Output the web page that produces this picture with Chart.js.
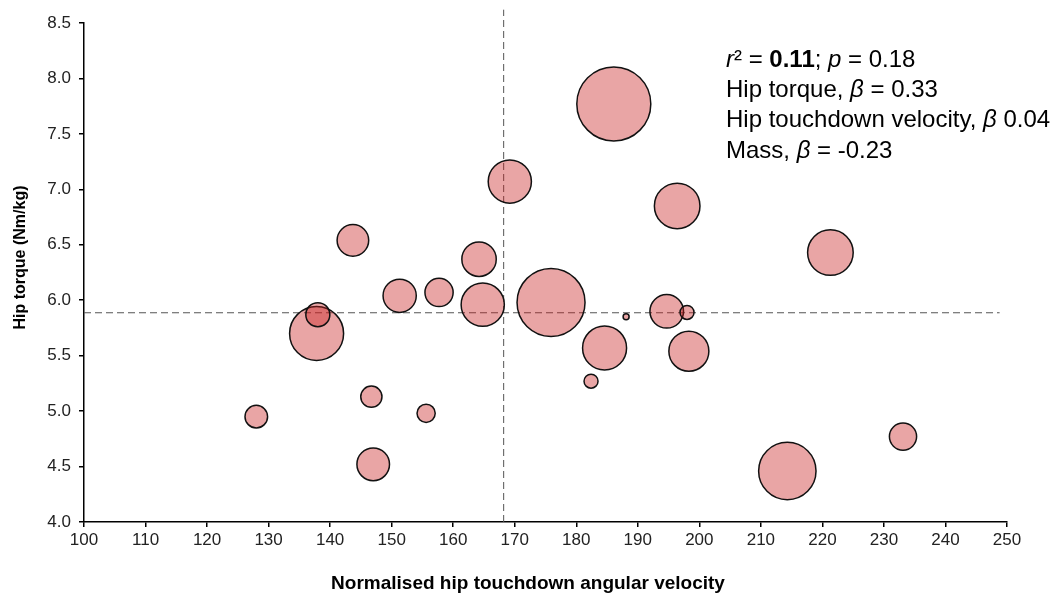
<!DOCTYPE html>
<html>
<head>
<meta charset="utf-8">
<script src="https://cdn.jsdelivr.net/npm/chart.js@4.4.0/dist/chart.umd.min.js"></script>
<style>
  html, body { margin: 0; padding: 0; background: #fff; }
  #wrap { width: 1057px; height: 597px; }
</style>
</head>
<body>
<div id="wrap"><canvas id="bubble-chart" width="1057" height="597"></canvas></div>
<script>
// hip touchdown angular velocity (x), hip torque (y), bubble size (radius)
const velocity = [186.1, 169.2, 196.4, 143.7, 164.2, 221.3, 151.3, 157.7, 164.8, 175.9, 137.8, 138.0,
                  194.7, 198.0, 188.1, 184.6, 198.3, 182.4, 146.7, 155.6, 128.0, 147.0, 233.1, 214.3];
const torque = [7.77, 7.07, 6.85, 6.54, 6.37, 6.43, 6.04, 6.07, 5.96, 5.98, 5.70, 5.87,
                5.90, 5.89, 5.85, 5.57, 5.54, 5.27, 5.13, 4.98, 4.95, 4.52, 4.77, 4.46];
const sizes = [37, 21.6, 22.8, 15.8, 17.2, 22.8, 16.6, 14.1, 21.6, 34, 27, 12,
               16.8, 7, 3, 22, 20, 7, 10.6, 9.1, 11.3, 16.3, 13.6, 28.7];

// reference lines (means)
const meanVelocity = 168.2;
const meanTorque = 5.887;

const xTicks = [100, 110, 120, 130, 140, 150, 160, 170, 180, 190, 200, 210, 220, 230, 240, 250];
const yTicks = [4.0, 4.5, 5.0, 5.5, 6.0, 6.5, 7.0, 7.5, 8.0, 8.5];

const xTitle = "Normalised hip touchdown angular velocity";
const yTitle = "Hip torque (Nm/kg)";

const statLines = [
    [{t: "r", s: "italic"}, {t: "² = "}, {t: "0.11", s: "bold"}, {t: "; "}, {t: "p", s: "italic"}, {t: " = 0.18"}],
    [{t: "Hip torque, "}, {t: "β", s: "italic"}, {t: " = 0.33"}],
    [{t: "Hip touchdown velocity, "}, {t: "β", s: "italic"}, {t: " 0.04"}],
    [{t: "Mass, "}, {t: "β", s: "italic"}, {t: " = -0.23"}]
];

const FONT = "'Liberation Sans', Arial, sans-serif";

let points = velocity.map((v, i) => ({x: v, y: torque[i], r: sizes[i]}));

// axis titles + stats text, drawn after the chart
const extraText = {
    id: 'extraText',
    afterDraw(chart) {
        let ctx = chart.ctx;
        ctx.save();
        ctx.fillStyle = '#000';
        ctx.textAlign = 'center';
        ctx.textBaseline = 'middle';
        ctx.font = "bold 19px " + FONT;
        ctx.fillText(xTitle, 528, 584);
        ctx.translate(21, 257.5);
        ctx.rotate(-Math.PI / 2);
        ctx.font = "bold 16px " + FONT;
        ctx.fillText(yTitle, 0, 0);
        ctx.restore();

        ctx.save();
        ctx.fillStyle = '#000';
        ctx.textBaseline = 'middle';
        ctx.textAlign = 'left';
        let y = 60;
        statLines.forEach(line => {
            let x = 726;
            line.forEach(part => {
                ctx.font = (part.s ? part.s + " " : "") + "24px " + FONT;
                ctx.fillText(part.t, x, y);
                x += ctx.measureText(part.t).width;
            });
            y += 30.3;
        });
        ctx.restore();
    }
};

let context = document.querySelector("#bubble-chart").getContext('2d');
new Chart(context, {
    type: 'bubble',
    data: {
        datasets: [{
            data: points,
            backgroundColor: 'rgba(200, 30, 30, 0.4)',
            borderColor: '#111',
            borderWidth: 1.5,
            order: 1
        }, {
            type: 'line',
            data: [{x: meanVelocity, y: 4.0}, {x: meanVelocity, y: 8.62}],
            borderColor: '#555',
            borderWidth: 1,
            borderDash: [7, 4],
            pointRadius: 0,
            clip: false,
            order: 2
        }, {
            type: 'line',
            data: [{x: 100, y: meanTorque}, {x: 248.8, y: meanTorque}],
            borderColor: '#555',
            borderWidth: 1,
            borderDash: [7, 4],
            pointRadius: 0,
            clip: false,
            order: 2
        }]
    },
    options: {
        responsive: false,
        animation: false,
        events: [],
        layout: { autoPadding: false, padding: { left: 0, top: 23, right: 50, bottom: 0 } },
        plugins: { legend: { display: false }, tooltip: { enabled: false } },
        scales: {
            x: {
                type: 'linear',
                min: 100,
                max: 250,
                afterBuildTicks: s => { s.ticks = xTicks.map(v => ({value: v})); },
                afterFit: s => { s.height = 75; },
                ticks: { font: { family: FONT, size: 17 }, color: '#222', padding: 3 },
                grid: { drawOnChartArea: false, tickLength: 5, color: '#000', lineWidth: 1.5 },
                border: { color: '#000', width: 1.5 }
            },
            y: {
                min: 4,
                max: 8.5,
                afterBuildTicks: s => { s.ticks = yTicks.map(v => ({value: v})); },
                afterFit: s => { s.width = 84; },
                ticks: { font: { family: FONT, size: 17 }, color: '#222', padding: 8,
                         callback: v => v.toFixed(1) },
                grid: { drawOnChartArea: false, tickLength: 5, color: '#000', lineWidth: 1.5 },
                border: { color: '#000', width: 1.5 }
            }
        }
    },
    plugins: [extraText]
});
</script>
</body>
</html>
